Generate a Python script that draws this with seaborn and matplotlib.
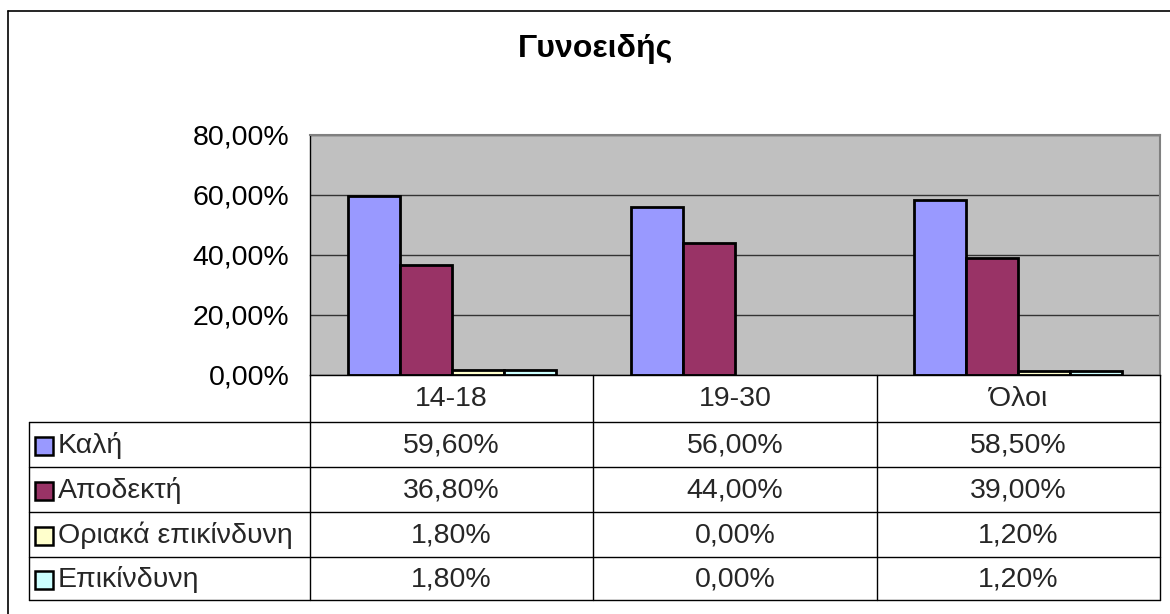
import matplotlib
matplotlib.use("Agg")
import matplotlib.pyplot as plt
from matplotlib.patches import Rectangle
import seaborn as sns
import pandas as pd

# ---- data ----
categories = ["14-18", "19-30", "Όλοι"]
series = ["Καλή", "Αποδεκτή", "Οριακά επικίνδυνη", "Επικίνδυνη"]
kali = [59.6, 56.0, 58.5]
apodekti = [36.8, 44.0, 39.0]
oriaka = [1.8, 0.0, 1.2]
epikindyni = [1.8, 0.0, 1.2]
yticks = [0, 20, 40, 60, 80]
title = "Γυνοειδής"
colors = ["#9999FF", "#993366", "#FFFFCC", "#CCFFFF"]

values = [kali, apodekti, oriaka, epikindyni]
rows = []
for s, vals in zip(series, values):
    for c, v in zip(categories, vals):
        rows.append({"group": c, "series": s, "value": v})
df = pd.DataFrame(rows)

sns.set_style("white")
plt.rcParams["font.family"] = ["Liberation Sans", "DejaVu Sans"]

FS = 20.5
W, H = 1170, 614
fig = plt.figure(figsize=(W / 100, H / 100), dpi=100)
fig.patch.set_facecolor("white")

# plot area in pixel coords
px_l, px_r, px_t, px_b = 310, 1160, 135, 375
ax = fig.add_axes([px_l / W, 1 - px_b / H, (px_r - px_l) / W, (px_b - px_t) / H], zorder=1)
ax.set_facecolor("#C0C0C0")

sns.barplot(data=df, x="group", y="value", hue="series", order=categories,
            hue_order=series, palette=colors, saturation=1, width=0.735,
            edgecolor="black", linewidth=2.0, ax=ax, legend=False)
for p in ax.patches:
    if p.get_height() == 0:
        p.set_linewidth(0)

ax.set_ylim(0, 80)
ax.set_xlim(-0.5, len(categories) - 0.5)
ax.set_yticks(yticks)
ax.set_yticklabels([f"{t:.2f}%".replace(".", ",") for t in yticks], fontsize=FS)
ax.set_xticks([])
ax.set_xlabel("")
ax.set_ylabel("")
ax.yaxis.grid(True, color="#333333", linewidth=1.0)
ax.set_axisbelow(True)
ax.tick_params(axis="y", direction="out", length=7, width=1, pad=8, colors="black")
for side in ["left", "bottom"]:
    ax.spines[side].set_color("black")
    ax.spines[side].set_linewidth(1.0)
for side in ["top", "right"]:
    ax.spines[side].set_color("#808080")
    ax.spines[side].set_linewidth(1.5)

# overlay for frame, title and data table (pixel coordinates)
ov = fig.add_axes([0, 0, 1, 1], zorder=2)
ov.set_xlim(0, W)
ov.set_ylim(H, 0)
ov.axis("off")
ov.patch.set_alpha(0)

# outer frame
ov.plot([8, 8], [11, H], color="black", lw=1.2)
ov.plot([8, W], [11, 11], color="black", lw=1.2)

ov.text(595, 57, title, fontsize=23, fontweight="bold", ha="center", va="baseline",
        color="black")

# table geometry
tbl_l = 29
col_x = [px_l + i * (px_r - px_l) / len(categories) for i in range(len(categories) + 1)]
hdr_t = px_b
row_y = [422, 467, 512, 557, 600]
lc = "black"
lw = 1.0

for x in col_x:
    ov.plot([x, x], [hdr_t, row_y[-1]], color=lc, lw=lw)
ov.plot([tbl_l, tbl_l], [row_y[0], row_y[-1]], color=lc, lw=lw)
for y in row_y:
    ov.plot([tbl_l, px_r], [y, y], color=lc, lw=lw)

for i, c in enumerate(categories):
    ov.text((col_x[i] + col_x[i + 1]) / 2, (hdr_t + row_y[0]) / 2 + 1, c,
            fontsize=FS, ha="center", va="center")

for r, (s, vals, col) in enumerate(zip(series, values, colors)):
    yc = (row_y[r] + row_y[r + 1]) / 2
    ov.add_patch(Rectangle((35, yc - 8), 18, 18, facecolor=col, edgecolor="black", lw=1.8))
    ov.text(58, yc + 1, s, fontsize=FS, ha="left", va="center")
    for i, v in enumerate(vals):
        ov.text((col_x[i] + col_x[i + 1]) / 2, yc + 1, f"{v:.2f}%".replace(".", ","),
                fontsize=FS, ha="center", va="center")

fig.savefig("out.png", dpi=100, facecolor="white")
